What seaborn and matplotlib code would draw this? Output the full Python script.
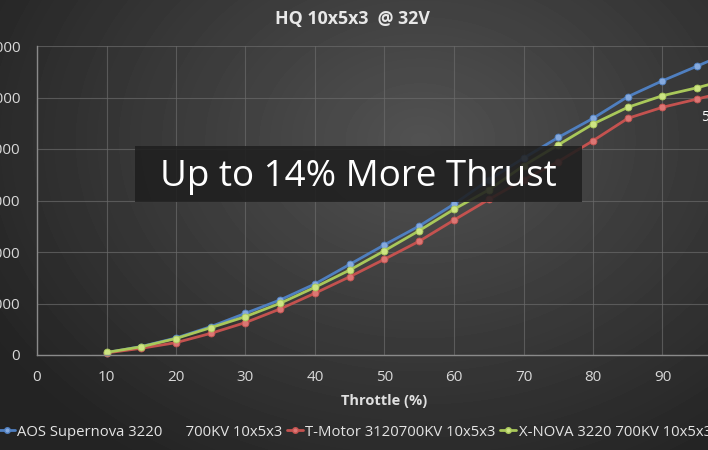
import numpy as np
import pandas as pd
import matplotlib
matplotlib.use("Agg")
import matplotlib.pyplot as plt
from matplotlib.lines import Line2D
from matplotlib.patches import Rectangle
import seaborn as sns

## data
throttle = [10, 15, 20, 25, 30, 35, 40, 45, 50, 55, 60, 65, 70, 75, 80, 85, 90, 95, 100]
aos_supernova = [45, 165, 330, 550, 810, 1070, 1380, 1760, 2140, 2505, 2930, 3400, 3820, 4225, 4595, 5015, 5325, 5610, 5900]
t_motor = [40, 130, 240, 420, 630, 895, 1200, 1520, 1860, 2210, 2620, 3020, 3400, 3755, 4160, 4595, 4810, 4970, 5140]
x_nova = [50, 160, 320, 530, 745, 1005, 1315, 1650, 2025, 2415, 2830, 3205, 3675, 4080, 4485, 4810, 5035, 5190, 5370]

series_names = ["AOS Supernova 3220      700KV 10x5x3",
                "T-Motor 3120700KV 10x5x3",
                "X-NOVA 3220 700KV 10x5x3"]
line_colors = ["#4f7fc0", "#c4524f", "#a9c85a"]
marker_colors = ["#86aade", "#dc7674", "#cde483"]
y_ticks = [0, 1000, 2000, 3000, 4000, 5000, 6000]
x_ticks = [0, 10, 20, 30, 40, 50, 60, 70, 80, 90, 100]

sns.set_theme(style="dark")
plt.rcParams["font.family"] = ["Open Sans", "DejaVu Sans"]

W, H = 708, 450
fig = plt.figure(figsize=(W / 100, H / 100), dpi=100)
fig.patch.set_facecolor("#2c2c2c")

## background gradient (dark slide look)
bg = fig.add_axes([0, 0, 1, 1], zorder=-2)
yy, xx = np.mgrid[0:H, 0:W]
d = np.sqrt(((xx - 420) / 470.0) ** 2 + ((yy - 140) / 360.0) ** 2)
grad = np.clip(0.32 - 0.17 * d, 0.14, 0.33)
bg.imshow(grad, cmap="gray", vmin=0, vmax=1, aspect="auto", interpolation="bilinear")
bg.axis("off")

## plot area - right part runs off the canvas like in the reference
x0, x1 = 37, 732
ytop, ybot = 46, 355
ax = fig.add_axes([x0 / W, 1 - ybot / H, (x1 - x0) / W, (ybot - ytop) / H])
ax.set_facecolor("none")

for vals, lc, mc in zip([aos_supernova, t_motor, x_nova], line_colors, marker_colors):
    df = pd.DataFrame({"throttle": throttle, "thrust": vals})
    sns.lineplot(data=df, x="throttle", y="thrust", ax=ax, color=lc, linewidth=2.0,
                 marker="o", markersize=5, markerfacecolor=mc, markeredgecolor=lc,
                 markeredgewidth=0.6, clip_on=False)

ax.set_xlim(0, 100)
ax.set_ylim(0, 6000)
ax.set_xticks(x_ticks)
ax.set_yticks(y_ticks)
# the 100 label sits outside the cropped picture
ax.set_xticklabels([str(t) if t < 100 else "" for t in x_ticks])
ax.set_yticklabels([str(t) for t in y_ticks])
ax.tick_params(axis="both", length=0, colors="#d8d8d8", labelsize=11)
ax.tick_params(axis="y", pad=12)
ax.tick_params(axis="x", pad=11)
ax.grid(True, color="#6a6a6a", linewidth=0.8, alpha=0.7)
for s in ["top", "right"]:
    ax.spines[s].set_visible(False)
for s in ["left", "bottom"]:
    ax.spines[s].set_visible(True)
    ax.spines[s].set_color("#8a8a8a")
    ax.spines[s].set_linewidth(1.0)
ax.set_xlabel("")
ax.set_ylabel("")

## data label cut by the right edge
ax.text(95.6, 4620, "5146", color="white", fontsize=10, ha="left", va="center")

## texts
fig.text(352 / W, 1 - 19 / H, "HQ 10x5x3  @ 32V", ha="center", va="center",
         fontsize=12.8, fontweight="bold", color="#e8e8e8")
fig.text(384 / W, 1 - 401 / H, "Throttle (%)", ha="center", va="center",
         fontsize=10.5, fontweight="bold", color="#e0e0e0")

## overlay box
fig.add_artist(Rectangle((135 / W, 1 - 202 / H), (582 - 135) / W, 56 / H,
                         transform=fig.transFigure, facecolor="#1f1f1f", alpha=0.88,
                         edgecolor="none", zorder=5))
fig.text(358 / W, 1 - 177 / H, "Up to 14% More Thrust", ha="center", va="center",
         fontsize=26.5, color="white", zorder=6)

## legend
handles = [Line2D([0], [0], color=lc, linewidth=2, marker="o", markersize=4,
                  markerfacecolor=mc, markeredgecolor=lc)
           for lc, mc in zip(line_colors, marker_colors)]
leg = fig.legend(handles, series_names, loc="center", bbox_to_anchor=(355 / W, 1 - 432 / H),
                 ncol=3, frameon=False, fontsize=10.7, handlelength=1.1,
                 handletextpad=0.15, columnspacing=0.3, labelcolor="#e4e4e4")

fig.savefig("out.png", dpi=100, facecolor=fig.get_facecolor())
